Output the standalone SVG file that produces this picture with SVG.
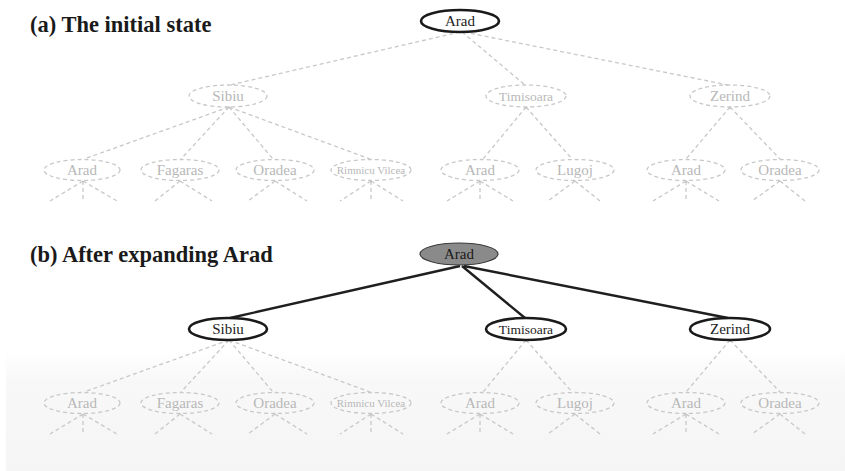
<svg xmlns="http://www.w3.org/2000/svg" width="845" height="471" viewBox="0 0 845 471">
<defs>
<linearGradient id="bg" x1="0" y1="0" x2="0" y2="1">
<stop offset="0" stop-color="#ffffff"/>
<stop offset="0.25" stop-color="#f8f8f8"/>
<stop offset="1" stop-color="#f5f5f5"/>
</linearGradient>
</defs>
<style>
.title{font-family:"Liberation Serif",serif;font-weight:bold;font-size:22.5px;fill:#1a1a1a}
.lbl{font-family:"Liberation Serif",serif;font-size:15px;text-anchor:middle}
.ghost ellipse{fill:none;stroke:#c8c8c8;stroke-width:1.3;stroke-dasharray:4 3}
.ghost text{fill:#b8b8b8}
.live ellipse{fill:#fff;stroke:#1a1a1a;stroke-width:2.6}
.live text{fill:#222}
.dash{stroke:#c8c8c8;stroke-width:1.3;stroke-dasharray:4 3;fill:none}
.solid{stroke:#1f1f1f;stroke-width:2.4;fill:none}
.sm{font-size:13.5px}
.xs{font-size:11px}
</style>
<rect x="0" y="0" width="845" height="471" fill="#fff"/>
<rect x="6" y="350" width="839" height="121" fill="url(#bg)"/>
<text class="title" x="30" y="32">(a) The initial state</text>
<text class="title" x="30" y="262">(b) After expanding Arad</text>

<g id="connectors">
<!-- panel a -->
<path class="dash" d="M460,32 L230,85 M462,32 L525,85 M464,32 L728,85"/>
<path class="dash" d="M229,107 L84,159 M229,107 L181,159 M229,107 L273,159 M229,107 L370,159"/>
<path class="dash" d="M526,107 L483,159 M526,107 L572,159 M730,107 L686,159 M730,107 L780,159"/>
<path class="dash" d="M83,181 L50,201 M83,181 L83,201 M83,181 L117,201
M180,181 L155,201 M180,181 L212,201
M275,181 L248,201 M275,181 L307,201
M371,181 L340,201 M371,181 L371,201 M371,181 L403,201
M480,181 L447,201 M480,181 L480,201 M480,181 L513,201
M575,181 L548,201 M575,181 L600,201
M686,181 L653,201 M686,181 L686,201 M686,181 L719,201
M780,181 L752,201 M780,181 L805,201"/>
<!-- panel b -->
<path class="solid" d="M460,266 L230,318 M462,266 L525,318 M464,266 L728,318"/>
<path class="dash" d="M229,340 L84,392 M229,340 L181,392 M229,340 L273,392 M229,340 L370,392"/>
<path class="dash" d="M526,340 L483,392 M526,340 L572,392 M730,340 L686,392 M730,340 L780,392"/>
<path class="dash" d="M83,414 L50,434 M83,414 L83,434 M83,414 L117,434
M180,414 L155,434 M180,414 L212,434
M275,414 L248,434 M275,414 L307,434
M371,414 L340,434 M371,414 L371,434 M371,414 L403,434
M480,414 L447,434 M480,414 L480,434 M480,414 L513,434
M575,414 L548,434 M575,414 L600,434
M686,414 L653,434 M686,414 L686,434 M686,414 L719,434
M780,414 L752,434 M780,414 L805,434"/>
</g>

<!-- panel a nodes -->
<g id="a-arad" class="live"><ellipse cx="460" cy="21" rx="39" ry="11"/><text class="lbl" x="460" y="26">Arad</text></g>
<g id="a-sibiu" class="ghost"><ellipse cx="228" cy="96" rx="39" ry="11"/><text class="lbl" x="228" y="101">Sibiu</text></g>
<g id="a-timisoara" class="ghost"><ellipse cx="526" cy="96" rx="40" ry="11"/><text class="lbl sm" x="526" y="100.5">Timisoara</text></g>
<g id="a-zerind" class="ghost"><ellipse cx="730" cy="96" rx="40" ry="11"/><text class="lbl" x="730" y="101">Zerind</text></g>
<g id="a-sibiu-arad" class="ghost"><ellipse cx="82" cy="170" rx="38" ry="10.5"/><text class="lbl" x="82" y="175">Arad</text></g>
<g id="a-fagaras" class="ghost"><ellipse cx="180" cy="170" rx="39" ry="10.5"/><text class="lbl" x="180" y="175">Fagaras</text></g>
<g id="a-sibiu-oradea" class="ghost"><ellipse cx="275" cy="170" rx="39" ry="10.5"/><text class="lbl" x="275" y="175">Oradea</text></g>
<g id="a-rimnicu" class="ghost"><ellipse cx="371" cy="170" rx="40" ry="10.5"/><text class="lbl xs" x="371" y="174">Rimnicu Vilcea</text></g>
<g id="a-tim-arad" class="ghost"><ellipse cx="480" cy="170" rx="39" ry="10.5"/><text class="lbl" x="480" y="175">Arad</text></g>
<g id="a-lugoj" class="ghost"><ellipse cx="575" cy="170" rx="39" ry="10.5"/><text class="lbl" x="575" y="175">Lugoj</text></g>
<g id="a-zer-arad" class="ghost"><ellipse cx="686" cy="170" rx="39" ry="10.5"/><text class="lbl" x="686" y="175">Arad</text></g>
<g id="a-zer-oradea" class="ghost"><ellipse cx="780" cy="170" rx="39" ry="10.5"/><text class="lbl" x="780" y="175">Oradea</text></g>

<!-- panel b nodes -->
<g id="b-arad"><ellipse cx="459" cy="254" rx="39" ry="11" fill="#8a8a8a" stroke="#3a3a3a" stroke-width="1.2"/><text class="lbl" x="459" y="259" fill="#1a1a1a">Arad</text></g>
<g id="b-sibiu" class="live"><ellipse cx="228" cy="329" rx="39" ry="11"/><text class="lbl" x="228" y="334">Sibiu</text></g>
<g id="b-timisoara" class="live"><ellipse cx="526" cy="329" rx="40" ry="11"/><text class="lbl sm" x="526" y="333.5">Timisoara</text></g>
<g id="b-zerind" class="live"><ellipse cx="730" cy="329" rx="40" ry="11"/><text class="lbl" x="730" y="334">Zerind</text></g>
<g id="b-sibiu-arad" class="ghost"><ellipse cx="82" cy="403" rx="38" ry="10.5"/><text class="lbl" x="82" y="408">Arad</text></g>
<g id="b-fagaras" class="ghost"><ellipse cx="180" cy="403" rx="39" ry="10.5"/><text class="lbl" x="180" y="408">Fagaras</text></g>
<g id="b-sibiu-oradea" class="ghost"><ellipse cx="275" cy="403" rx="39" ry="10.5"/><text class="lbl" x="275" y="408">Oradea</text></g>
<g id="b-rimnicu" class="ghost"><ellipse cx="371" cy="403" rx="40" ry="10.5"/><text class="lbl xs" x="371" y="407">Rimnicu Vilcea</text></g>
<g id="b-tim-arad" class="ghost"><ellipse cx="480" cy="403" rx="39" ry="10.5"/><text class="lbl" x="480" y="408">Arad</text></g>
<g id="b-lugoj" class="ghost"><ellipse cx="575" cy="403" rx="39" ry="10.5"/><text class="lbl" x="575" y="408">Lugoj</text></g>
<g id="b-zer-arad" class="ghost"><ellipse cx="686" cy="403" rx="39" ry="10.5"/><text class="lbl" x="686" y="408">Arad</text></g>
<g id="b-zer-oradea" class="ghost"><ellipse cx="780" cy="403" rx="39" ry="10.5"/><text class="lbl" x="780" y="408">Oradea</text></g>
</svg>
